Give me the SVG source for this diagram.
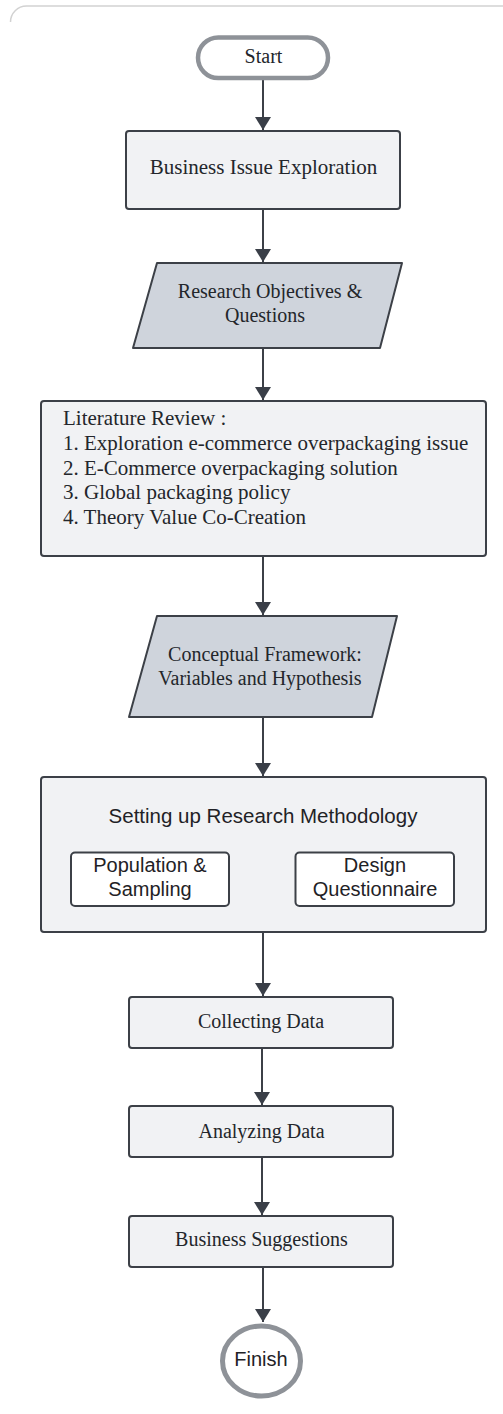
<svg xmlns="http://www.w3.org/2000/svg" width="503" height="1414" viewBox="0 0 503 1414">
<defs>
<style>
.serif{font-family:"Liberation Serif","Times New Roman",serif;fill:#23262b;}
.sans{font-family:"Liberation Sans",Arial,sans-serif;fill:#1f2226;}
.box{fill:#f1f2f4;stroke:#3c4047;stroke-width:2;}
.para{fill:#cfd4dc;stroke:#3c4047;stroke-width:2;stroke-linejoin:round;}
.sub{fill:#ffffff;stroke:#3c4047;stroke-width:2;}
.term{fill:#ffffff;stroke:#8e9298;}
.conn{stroke:#3c4047;stroke-width:2;fill:none;marker-end:url(#arr);}
</style>
<marker id="arr" markerUnits="userSpaceOnUse" viewBox="0 0 13 16" refX="13" refY="8" markerWidth="13" markerHeight="16" orient="auto">
<path d="M0,0 L13,8 L0,16 z" fill="#3a3f48"/>
</marker>
</defs>
<rect width="503" height="1414" fill="#ffffff"/>
<path d="M10.5,22 A16,16 0 0 1 26.5,6 H503" fill="none" stroke="#d2d2d2" stroke-width="1.5"/>

<g id="connectors">
<line class="conn" x1="263" y1="80" x2="263" y2="130"/>
<line class="conn" x1="263" y1="210" x2="263" y2="262"/>
<line class="conn" x1="263" y1="349" x2="263" y2="400"/>
<line class="conn" x1="263" y1="557" x2="263" y2="615"/>
<line class="conn" x1="263" y1="718" x2="263" y2="776"/>
<line class="conn" x1="263" y1="933" x2="263" y2="996"/>
<line class="conn" x1="262" y1="1049" x2="262" y2="1105"/>
<line class="conn" x1="262" y1="1158" x2="262" y2="1215"/>
<line class="conn" x1="263" y1="1268" x2="263" y2="1322"/>
</g>

<g id="start">
<rect class="term" x="198" y="37.5" width="130" height="40.5" rx="20.25" stroke-width="4.5"/>
<text class="serif" x="263.5" y="63" font-size="20" text-anchor="middle">Start</text>
</g>

<g id="business-issue">
<rect class="box" x="126" y="131" width="274" height="78" rx="3"/>
<text class="serif" x="263.5" y="174" font-size="21" text-anchor="middle">Business Issue Exploration</text>
</g>

<g id="research-objectives">
<path class="para" d="M157,263 L402,263 L380,348 L133,348 Z"/>
<text class="serif" x="270" y="298" font-size="20" text-anchor="middle">Research Objectives &amp;</text>
<text class="serif" x="265" y="321.5" font-size="20" text-anchor="middle">Questions</text>
</g>

<g id="literature-review">
<rect class="box" x="41" y="401" width="445" height="155" rx="3"/>
<text class="serif" x="63" y="425" font-size="21">Literature Review :</text>
<text class="serif" x="63" y="450" font-size="21">1. Exploration e-commerce overpackaging issue</text>
<text class="serif" x="63" y="474.5" font-size="21">2. E-Commerce overpackaging solution</text>
<text class="serif" x="63" y="499" font-size="21">3. Global packaging policy</text>
<text class="serif" x="63" y="524" font-size="21">4. Theory Value Co-Creation</text>
</g>

<g id="conceptual-framework">
<path class="para" d="M157,616 L397,616 L372,717 L129,717 Z"/>
<text class="serif" x="265" y="661" font-size="20" text-anchor="middle">Conceptual Framework:</text>
<text class="serif" x="260" y="685" font-size="20" text-anchor="middle">Variables and Hypothesis</text>
</g>

<g id="methodology">
<rect class="box" x="41" y="777" width="445" height="155" rx="3"/>
<text class="sans" x="263" y="823" font-size="20.5" text-anchor="middle">Setting up Research Methodology</text>
<g id="population">
<rect class="sub" x="71" y="852.5" width="158" height="53.5" rx="4"/>
<text class="sans" x="150" y="872" font-size="20" text-anchor="middle">Population &amp;</text>
<text class="sans" x="150" y="895.5" font-size="20" text-anchor="middle">Sampling</text>
</g>
<g id="questionnaire">
<rect class="sub" x="295.5" y="852.5" width="158.5" height="53.5" rx="4"/>
<text class="sans" x="375" y="872" font-size="20" text-anchor="middle">Design</text>
<text class="sans" x="375" y="895.5" font-size="20" text-anchor="middle">Questionnaire</text>
</g>
</g>

<g id="collecting">
<rect class="box" x="129" y="997" width="264" height="51" rx="3"/>
<text class="serif" x="261" y="1027.5" font-size="20" text-anchor="middle">Collecting Data</text>
</g>

<g id="analyzing">
<rect class="box" x="129" y="1106" width="264" height="51" rx="3"/>
<text class="serif" x="261.5" y="1137.5" font-size="20" text-anchor="middle">Analyzing Data</text>
</g>

<g id="suggestions">
<rect class="box" x="129" y="1216" width="264" height="51" rx="3"/>
<text class="serif" x="261.5" y="1246" font-size="20" text-anchor="middle">Business Suggestions</text>
</g>

<g id="finish">
<ellipse class="term" cx="261.5" cy="1361" rx="39" ry="35" stroke-width="5"/>
<text class="sans" x="261" y="1366" font-size="20" text-anchor="middle">Finish</text>
</g>
</svg>
